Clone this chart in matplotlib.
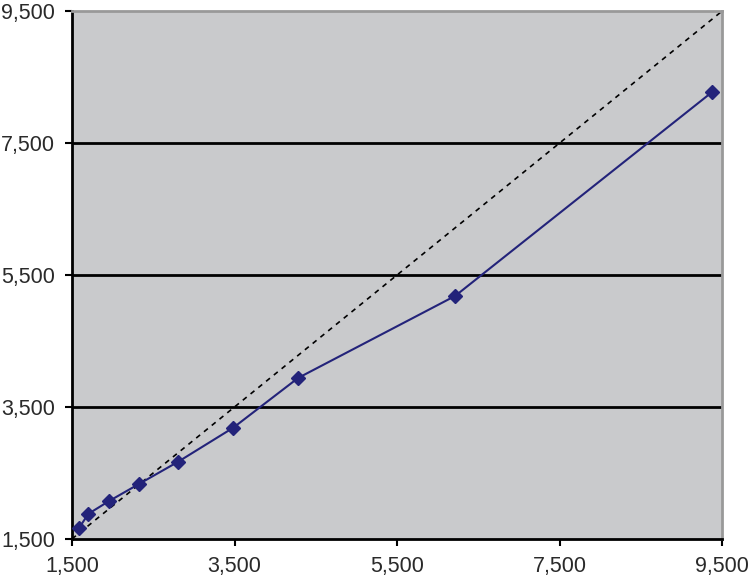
import matplotlib.pyplot as plt

# data
x_vals = [1590, 1700, 1952, 2325, 2808, 3485, 4282, 6214, 9377]
y_vals = [1671, 1879, 2071, 2333, 2671, 3186, 3939, 5182, 8273]
ref_line = [1500, 9500]
ticks = [1500, 3500, 5500, 7500, 9500]
tick_labels = ['1,500', '3,500', '5,500', '7,500', '9,500']

plt.rcParams['font.family'] = ['Liberation Sans', 'DejaVu Sans']

fig = plt.figure(figsize=(7.5, 5.77), dpi=100)
ax = fig.add_axes([0.096, 0.066, 0.867, 0.915])
ax.set_facecolor('#C9CACC')

for yv in ticks[1:-1]:
    ax.axhline(yv, color='black', lw=2, zorder=1)

ax.plot(ref_line, ref_line, color='black', ls=(0, (3, 3)), lw=1.2, zorder=2)
ax.plot(x_vals, y_vals, color='#23237A', lw=1.5, marker='D', ms=7,
        zorder=3)

ax.set_xlim(1500, 9500)
ax.set_ylim(1500, 9500)
ax.set_xticks(ticks, tick_labels)
ax.set_yticks(ticks, tick_labels)
ax.tick_params(labelsize=15.5, length=5, width=1.5, color='black',
               labelcolor='#2a2a2a')
ax.tick_params(axis='y', pad=7)
ax.tick_params(axis='x', pad=7)

for side in ['left', 'bottom']:
    ax.spines[side].set_color('black')
    ax.spines[side].set_linewidth(2)
for side in ['top', 'right']:
    ax.spines[side].set_color('#999999')
    ax.spines[side].set_linewidth(2)

fig.savefig('out.png', dpi=100)
